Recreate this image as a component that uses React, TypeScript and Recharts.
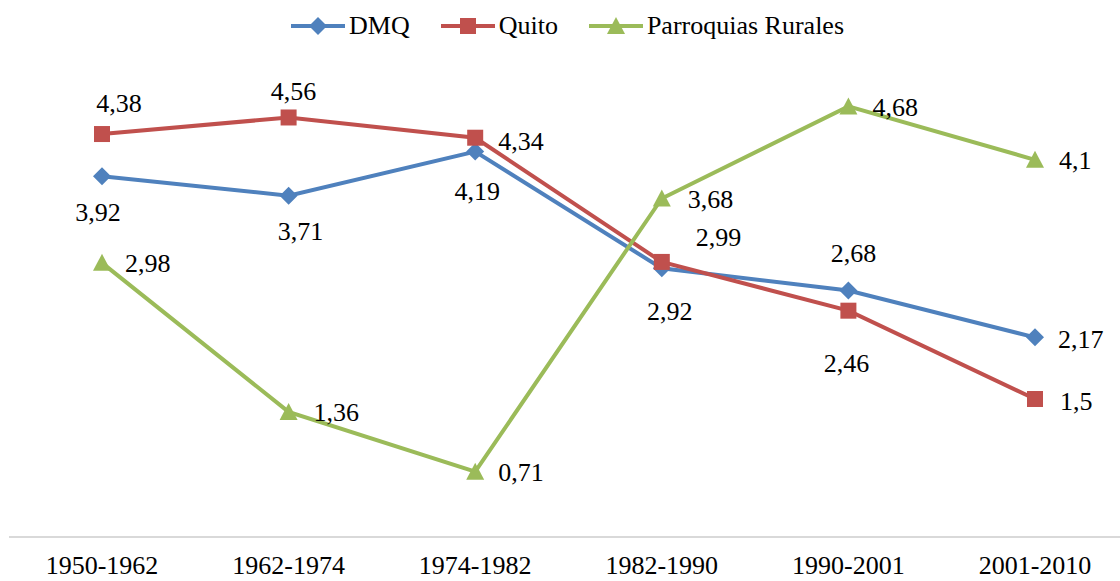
import React from 'react';
import { LineChart, Line, XAxis, YAxis, Legend, LabelList } from 'recharts';

const periods = ['1950-1962', '1962-1974', '1974-1982', '1982-1990', '1990-2001', '2001-2010'];
const dmq = [3.92, 3.71, 4.19, 2.92, 2.68, 2.17];
const quito = [4.38, 4.56, 4.34, 2.99, 2.46, 1.5];
const rurales = [2.98, 1.36, 0.71, 3.68, 4.68, 4.1];

const data = periods.map((period, i) => ({
  period,
  dmq: dmq[i],
  quito: quito[i],
  rurales: rurales[i],
}));

const FONT = 'Liberation Serif, Tinos, DejaVu Serif, serif';
const BLUE = '#4F81BD';
const RED = '#C0504D';
const GREEN = '#9BBB59';

// where each data label sits relative to its point
type LabelPos = { anchor: 'start' | 'middle'; dx: number; dy: number };
const dmqLabelPos: LabelPos[] = [
  { anchor: 'middle', dx: -4, dy: 36 },
  { anchor: 'middle', dx: 12, dy: 36 },
  { anchor: 'middle', dx: 2, dy: 40 },
  { anchor: 'middle', dx: 8, dy: 43 },
  { anchor: 'middle', dx: 5, dy: -37 },
  { anchor: 'start', dx: 23, dy: 2 },
];
const quitoLabelPos: LabelPos[] = [
  { anchor: 'middle', dx: 17, dy: -31 },
  { anchor: 'middle', dx: 5, dy: -26 },
  { anchor: 'start', dx: 23, dy: 4 },
  { anchor: 'start', dx: 34, dy: -24 },
  { anchor: 'middle', dx: -2, dy: 53 },
  { anchor: 'start', dx: 25, dy: 2 },
];
const ruralesLabelPos: LabelPos[] = [
  { anchor: 'start', dx: 23, dy: 1 },
  { anchor: 'start', dx: 25, dy: 1 },
  { anchor: 'start', dx: 23, dy: 1 },
  { anchor: 'start', dx: 26, dy: 1 },
  { anchor: 'start', dx: 24, dy: 1 },
  { anchor: 'start', dx: 24, dy: 1 },
];

const fmt = (v: number) => String(v).replace('.', ',');

const makeLabel = (positions: LabelPos[]) => (props: any) => {
  const { x, y, value, index } = props;
  const p = positions[index];
  return (
    <text
      x={x + p.dx}
      y={y + p.dy}
      textAnchor={p.anchor}
      dominantBaseline="central"
      style={{ fontFamily: FONT }}
      fontSize={26}
      fill="#000"
    >
      {fmt(Number(value))}
    </text>
  );
};

const Diamond = ({ cx, cy, r = 9 }: any) => (
  <path d={`M${cx},${cy - r}L${cx + r},${cy}L${cx},${cy + r}L${cx - r},${cy}Z`} fill={BLUE} />
);
const Square = ({ cx, cy, s = 8 }: any) => (
  <rect x={cx - s} y={cy - s} width={s * 2} height={s * 2} fill={RED} />
);
const Triangle = ({ cx, cy }: any) => (
  <path d={`M${cx},${cy - 9}L${cx + 9},${cy + 8}L${cx - 9},${cy + 8}Z`} fill={GREEN} />
);

const legendItems = [
  { name: 'DMQ', color: BLUE, Marker: Diamond },
  { name: 'Quito', color: RED, Marker: Square },
  { name: 'Parroquias Rurales', color: GREEN, Marker: Triangle },
];

const renderLegend = () => (
  <div
    style={{
      height: 77,
      boxSizing: 'border-box',
      paddingTop: 11,
      paddingLeft: 291,
      display: 'flex',
      alignItems: 'flex-start',
      fontFamily: FONT,
      fontSize: 26,
      lineHeight: '30px',
      color: '#000',
    }}
  >
    {legendItems.map(({ name, color, Marker }) => (
      <div key={name} style={{ display: 'flex', alignItems: 'center', marginRight: 31 }}>
        <svg width={54} height={30}>
          <line x1={0} y1={15} x2={54} y2={15} stroke={color} strokeWidth={4} />
          <Marker cx={27} cy={15} />
        </svg>
        <span style={{ marginLeft: 4 }}>{name}</span>
      </div>
    ))}
  </div>
);

export default function App() {
  return (
    <div style={{ position: 'absolute', left: 0, top: 0, background: '#fff', fontFamily: FONT }}>
      <LineChart width={1120} height={581} data={data} margin={{ top: 0, right: 0, left: 9, bottom: 0 }}>
        <Legend
          verticalAlign="top"
          content={renderLegend}
          wrapperStyle={{ left: 0, top: 0, width: 1120 }}
        />
        <XAxis
          dataKey="period"
          height={44}
          padding={{ left: 93, right: 85 }}
          axisLine={{ stroke: '#d9d9d9', strokeWidth: 2 }}
          tickLine={false}
          tickMargin={13}
          tick={{ fontSize: 26, fill: '#000', style: { fontFamily: FONT } }}
          interval={0}
        />
        <YAxis hide domain={[0, 5]} type="number" />
        <Line
          dataKey="dmq"
          stroke={BLUE}
          strokeWidth={4}
          isAnimationActive={false}
          dot={(p: any) => <Diamond key={`dmq-${p.index}`} cx={p.cx} cy={p.cy} />}
          activeDot={false}
        >
          <LabelList dataKey="dmq" content={makeLabel(dmqLabelPos)} />
        </Line>
        <Line
          dataKey="quito"
          stroke={RED}
          strokeWidth={4}
          isAnimationActive={false}
          dot={(p: any) => <Square key={`q-${p.index}`} cx={p.cx} cy={p.cy} />}
          activeDot={false}
        >
          <LabelList dataKey="quito" content={makeLabel(quitoLabelPos)} />
        </Line>
        <Line
          dataKey="rurales"
          stroke={GREEN}
          strokeWidth={4}
          isAnimationActive={false}
          dot={(p: any) => <Triangle key={`r-${p.index}`} cx={p.cx} cy={p.cy} />}
          activeDot={false}
        >
          <LabelList dataKey="rurales" content={makeLabel(ruralesLabelPos)} />
        </Line>
      </LineChart>
    </div>
  );
}
